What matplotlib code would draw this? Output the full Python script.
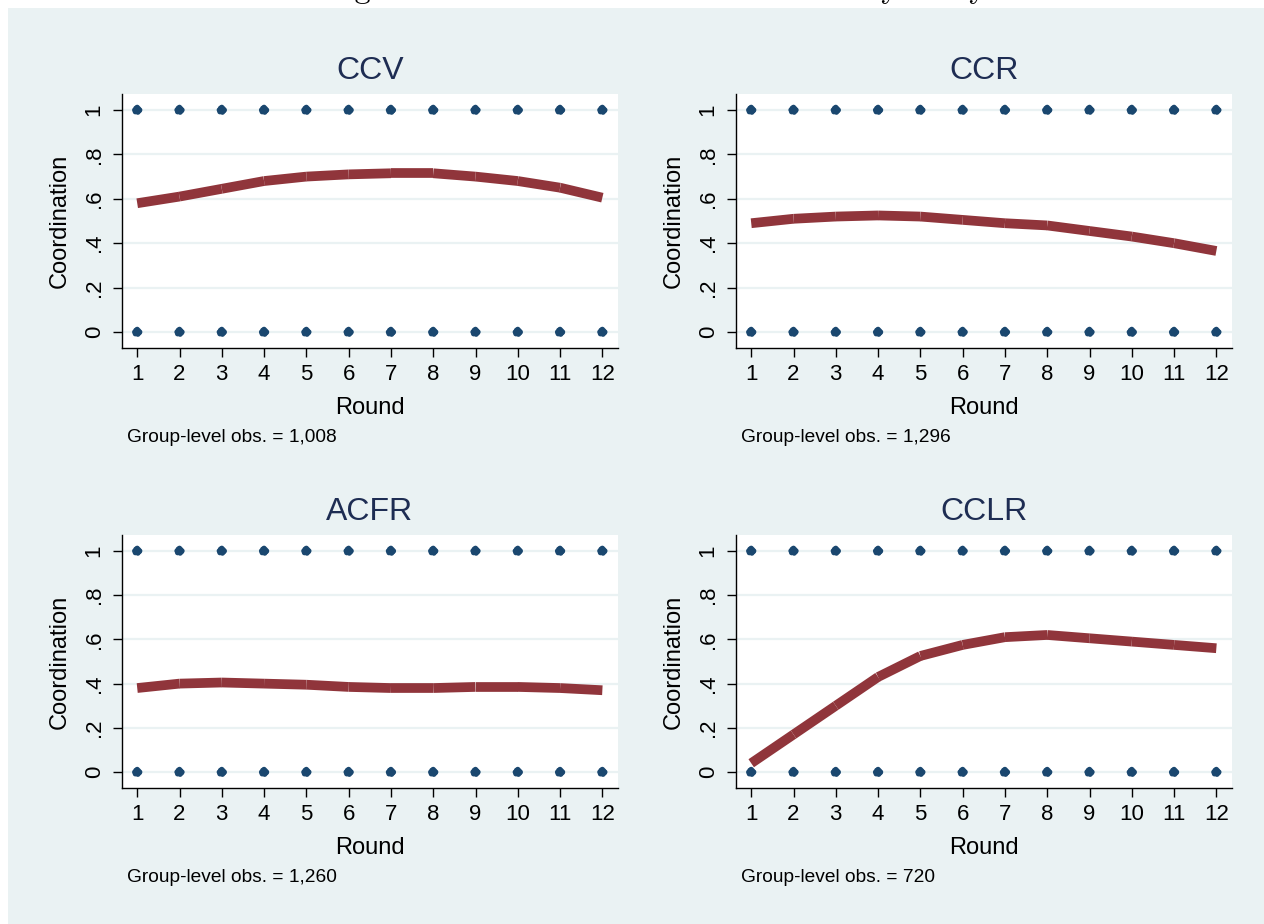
import matplotlib
matplotlib.use("Agg")
import matplotlib.pyplot as plt
from matplotlib.patches import Rectangle

plt.rcParams["font.family"] = ["Liberation Sans", "DejaVu Sans"]

# ---- data -------------------------------------------------------------
rounds = list(range(1, 13))
studies = ["CCV", "CCR", "ACFR", "CCLR"]
obs_labels = ["1,008", "1,296", "1,260", "720"]

ccv = [0.58, 0.61, 0.645, 0.68, 0.70, 0.71, 0.715, 0.715, 0.70, 0.68, 0.65, 0.605]
ccr = [0.49, 0.51, 0.52, 0.525, 0.52, 0.505, 0.49, 0.48, 0.455, 0.43, 0.40, 0.365]
acfr = [0.38, 0.40, 0.405, 0.40, 0.395, 0.385, 0.38, 0.38, 0.385, 0.385, 0.38, 0.37]
cclr = [0.04, 0.17, 0.30, 0.43, 0.525, 0.575, 0.61, 0.62, 0.605, 0.59, 0.575, 0.56]
trends = [ccv, ccr, acfr, cclr]

outcomes = [0, 1]  # individual coordination outcome (binary)
ytick_vals = [0, 0.2, 0.4, 0.6, 0.8, 1]
ytick_labels = ["0", ".2", ".4", ".6", ".8", "1"]

# ---- styling ----------------------------------------------------------
W, H = 1264, 924
BG = "#EAF2F3"
LINE = "#90353B"
DOT = "#1A476F"
TITLE = "#1E2D53"
# small fixed spread so the stacked binary observations read as blobs
jit_dx = [-0.06, -0.03, 0.0, 0.03, 0.06, -0.045, 0.045, 0.0, 0.015, -0.015]
jit_dy = [0.0, 0.008, -0.006, 0.006, 0.0, -0.008, -0.004, 0.012, -0.01, 0.004]

fig = plt.figure(figsize=(W / 100, H / 100), dpi=100)
fig.patch.set_facecolor("white")
fig.patches.append(Rectangle((8 / W, 0), 1 - 8 / W, 1 - 8 / H,
                             transform=fig.transFigure, facecolor=BG,
                             edgecolor="none", zorder=-10))

fig.text(656 / W, 1 + 1.5 / H, "Figure 3: Time trends of coordination by study",
         family="cmr10", fontsize=23, ha="center", va="baseline")

# axes boxes in pixels: left, top, right, bottom
boxes = [(122, 94, 618, 348), (736, 94, 1232, 348),
         (122, 535, 618, 788), (736, 535, 1232, 788)]

for study, trend, obs, (l, t, r, b) in zip(studies, trends, obs_labels, boxes):
    ax = fig.add_axes([l / W, 1 - b / H, (r - l) / W, (b - t) / H])
    ax.set_facecolor("white")
    ax.set_xlim(0.64, 12.37)
    ax.set_ylim(-0.072, 1.072)

    for yv in ytick_vals:
        ax.axhline(yv, color=BG, lw=1.6, zorder=0)

    for xr in rounds:
        for yo in outcomes:
            xs = [xr + d for d in jit_dx]
            ys = [yo + d for d in jit_dy]
            ax.scatter(xs, ys, s=14, color=DOT, edgecolors="none", zorder=2)

    for i in range(len(rounds) - 1):
        ax.plot(rounds[i:i + 2], trend[i:i + 2], color=LINE, lw=7,
                solid_capstyle="butt", zorder=3)

    ax.set_xticks(rounds)
    ax.set_xticklabels([str(r_) for r_ in rounds])
    ax.set_yticks(ytick_vals)
    ax.set_yticklabels(ytick_labels, rotation=90, va="center")
    ax.tick_params(axis="x", length=6.5, width=1, labelsize=16, pad=5,
                   color="black")
    ax.tick_params(axis="y", length=6.5, width=1, labelsize=16, pad=6,
                   color="black")
    for s in ("top", "right"):
        ax.spines[s].set_visible(False)
    for s in ("left", "bottom"):
        ax.spines[s].set_linewidth(1)
    ax.set_xlabel("Round", fontsize=17, labelpad=9)
    ax.set_ylabel("Coordination", fontsize=17, labelpad=9)
    ax.set_title(study, fontsize=23, color=TITLE, pad=11)

    fig.text((l + 5) / W, 1 - (b + 90) / H, f"Group-level obs. = {obs}",
             fontsize=13.8, ha="left", va="center")

fig.savefig("out.png", dpi=100, facecolor=fig.get_facecolor())
